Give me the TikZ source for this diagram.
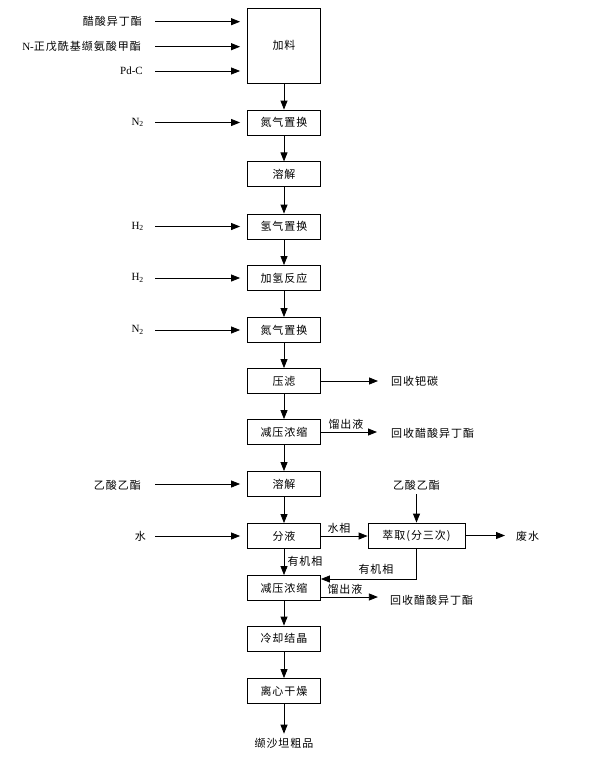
\documentclass[tikz,border=0pt]{standalone}
\usepackage{fontspec}
\setmainfont{Liberation Serif}
\newfontfamily\cjk[LetterSpace=9]{Noto Sans CJK SC}
\usetikzlibrary{arrows.meta,calc}
\begin{document}
\begin{tikzpicture}[x=1pt,y=-1pt,
  box/.style={draw,line width=0.8pt,minimum width=73pt,minimum height=25pt,inner sep=0pt,font=\cjk\fontsize{11}{13}\selectfont},
  lab/.style={inner sep=0pt,font=\cjk\fontsize{11}{13}\selectfont},
  lat/.style={inner sep=0pt,font=\fontsize{11}{13}\selectfont},
  arr/.style={line width=0.8pt,-{Triangle[length=9pt,width=7pt]}},
  inarr/.style={arr,shorten >=7pt}
]
\useasboundingbox (0,0) rectangle (610,768);
% main column
\node[box,minimum height=75pt] (jl) at (284,45.5) {加料};
\node[box] (n1) at (284,122.5) {氮气置换};
\node[box] (rj1) at (284,174.3) {溶解};
\node[box] (h1) at (284,226.5) {氢气置换};
\node[box] (jq) at (284,278) {加氢反应};
\node[box] (n2) at (284,330) {氮气置换};
\node[box] (yl) at (284,381) {压滤};
\node[box] (jy1) at (284,432) {减压浓缩};
\node[box] (rj2) at (284,484) {溶解};
\node[box] (fy) at (284,536) {分液};
\node[box] (jy2) at (284,588) {减压浓缩};
\node[box] (lq) at (284,638.5) {冷却结晶};
\node[box] (lx) at (284,691) {离心干燥};
\node[lab] (cp) at (284,743) {缬沙坦粗品};
\node[box,minimum width=97pt] (cq) at (416.5,535.5) {萃取(分三次)};
% vertical flow
\draw[arr] (jl.south) -- (n1.north);
\draw[arr] (n1.south) -- (rj1.north);
\draw[arr] (rj1.south) -- (h1.north);
\draw[arr] (h1.south) -- (jq.north);
\draw[arr] (jq.south) -- (n2.north);
\draw[arr] (n2.south) -- (yl.north);
\draw[arr] (yl.south) -- (jy1.north);
\draw[arr] (jy1.south) -- (rj2.north);
\draw[arr] (rj2.south) -- (fy.north);
\draw[arr] (fy.south) -- (jy2.north);
\draw[arr] (jy2.south) -- (lq.north);
\draw[arr] (lq.south) -- (lx.north);
\draw[arr,shorten >=4pt] (lx.south) -- (cp.north);
% left inputs
\node[lab,anchor=east] (i1) at (142,21.7) {醋酸异丁酯};
\node[lat,anchor=east] (i2) at (141,46.7) {N-{\cjk\fontsize{11}{13}\selectfont 正戊酰基缬氨酸甲酯}};
\node[lat,anchor=east] (i3) at (143,71) {Pd-C};
\node[lat,anchor=east] (i4) at (144,122.5) {N\textsubscript{2}};
\node[lat,anchor=east] (i5) at (144,226.5) {H\textsubscript{2}};
\node[lat,anchor=east] (i6) at (144,278) {H\textsubscript{2}};
\node[lat,anchor=east] (i7) at (144,330) {N\textsubscript{2}};
\node[lab,anchor=east] (i8) at (141,485) {乙酸乙酯};
\node[lab,anchor=east] (i9) at (146,536) {水};
\coordinate (s1) at (155,21.7);
\coordinate (s2) at (155,46.7);
\coordinate (s3) at (155,71);
\coordinate (s4) at (155,122.5);
\coordinate (s5) at (155,226.5);
\coordinate (s6) at (155,278);
\coordinate (s7) at (155,330);
\coordinate (s8) at (155,484);
\coordinate (s9) at (155,536);
\draw[inarr] (s1) -- (s1 -| jl.west);
\draw[inarr] (s2) -- (s2 -| jl.west);
\draw[inarr] (s3) -- (s3 -| jl.west);
\draw[inarr] (s4) -- (n1.west);
\draw[inarr] (s5) -- (h1.west);
\draw[inarr] (s6) -- (jq.west);
\draw[inarr] (s7) -- (n2.west);
\draw[inarr] (s8) -- (rj2.west);
\draw[inarr] (s9) -- (fy.west);
% right outputs
\node[lab,anchor=west] (r1) at (391,381) {回收钯碳};
\draw[arr] (yl.east) -- ([xshift=-13pt]r1.west);
\node[lab,anchor=west] (r2) at (391,433) {回收醋酸异丁酯};
\node[lab] (l1) at (346,424) {馏出液};
\draw[arr] (jy1.east) -- ([xshift=-14pt]r2.west |- jy1.east);
\node[lab] (l2) at (339,528) {水相};
\draw[arr] (fy.east) -- (fy.east -| cq.west);
\node[lab] (e2) at (416.5,485) {乙酸乙酯};
\draw[arr,shorten <=4pt] (e2.south) -- (cq.north);
\node[lab,anchor=west] (fs) at (516,536) {废水};
\draw[arr] (cq.east) -- ([xshift=-11pt]fs.west |- cq.east);
\node[lab] (l3) at (305,561) {有机相};
\node[lab] (l4) at (376,569) {有机相};
\draw[arr] (cq.south) |- ([yshift=9pt]jy2.east);
\node[lab] (l5) at (345,589) {馏出液};
\node[lab,anchor=west] (r3) at (390,600) {回收醋酸异丁酯};
\coordinate (o3) at ([yshift=-9pt]jy2.east);
\draw[arr] (o3) -- ++(57,0);
\end{tikzpicture}
\end{document}
